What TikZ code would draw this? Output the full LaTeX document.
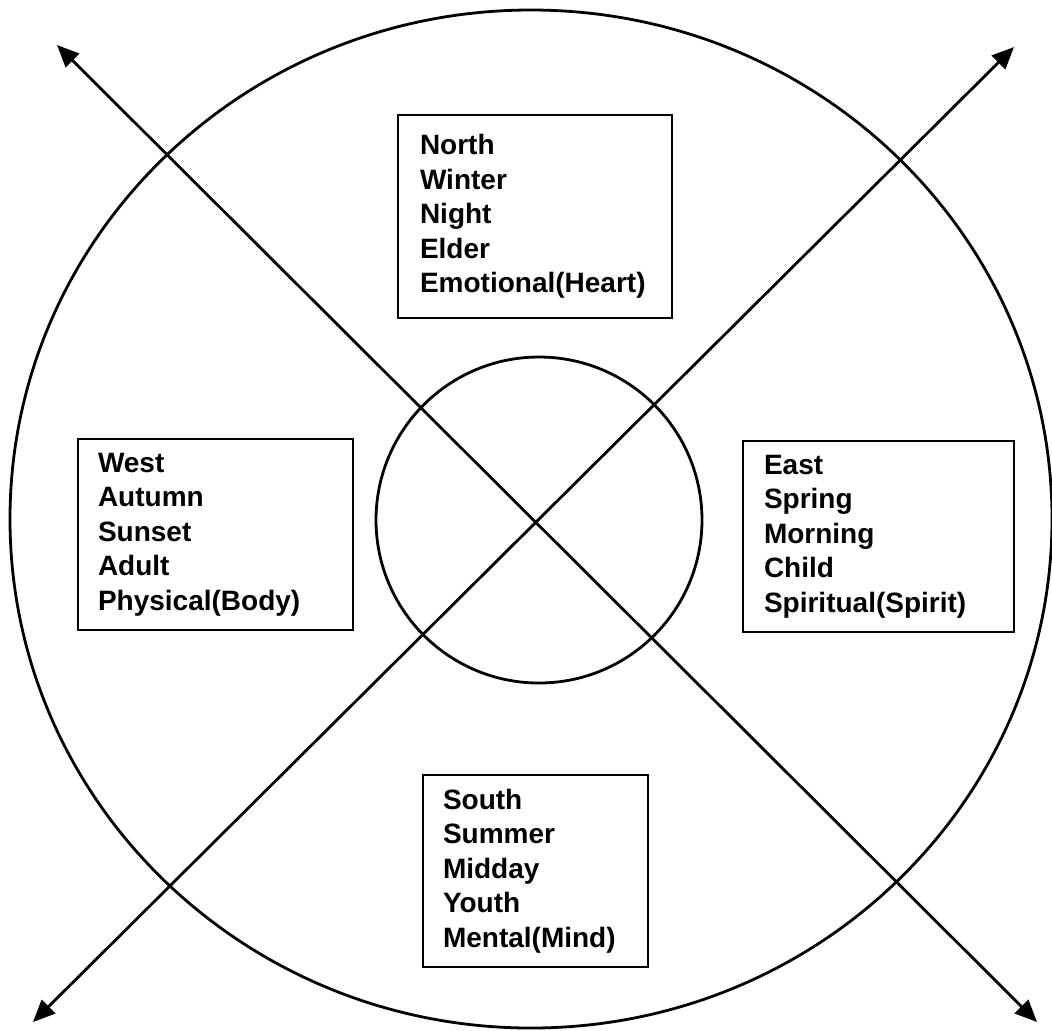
\documentclass[tikz,border=0pt]{standalone}
\usepackage{fontspec}
\setmainfont{Liberation Sans}
\usetikzlibrary{arrows.meta}
\tikzset{
	quadbox/.style={draw, line width=1.4pt, align=left, inner ysep=0pt, minimum height=#1,
		font=\bfseries\fontsize{14pt}{17.25pt}\selectfont},
	axis/.style={line width=1.4pt, {Triangle[length=11pt,width=9.5pt]}-{Triangle[length=11pt,width=9.5pt]}}
}
\begin{document}
\begin{tikzpicture}[x=0.5pt,y=-0.5pt]
	\useasboundingbox (0,0) rectangle (1052,1030);
	\draw[line width=1.4pt](531,519) ellipse[x radius=260.5pt, y radius=254.5pt];
	\draw[line width=1.4pt](539,520) circle[radius=81.5pt];
	\coordinate (nw) at (57,45);
	\coordinate (se) at (1037,1022);
	\coordinate (ne) at (1014,47);
	\coordinate (sw) at (33,1022);
	\draw[axis] (nw) -- (se);
	\draw[axis] (sw) -- (ne);
	\node[quadbox=101.5pt, text width=115pt, inner xsep=11pt] (northbox) at (535,216.5) {North\\Winter\\Night\\Elder\\Emotional(Heart)};
	\node[quadbox=95.5pt, text width=117.5pt, inner xsep=10pt] (westbox) at (215.5,534.5) {West\\Autumn\\Sunset\\Adult\\Physical(Body)};
	\node[quadbox=95.5pt, text width=114.5pt, inner xsep=10.5pt] (eastbox) at (878.5,536.5) {East\\Spring\\Morning\\Child\\Spiritual(Spirit)};
	\node[quadbox=96pt, text width=92.5pt, inner xsep=10pt] (southbox) at (535.5,871) {South\\Summer\\Midday\\Youth\\Mental(Mind)};
\end{tikzpicture}
\end{document}
